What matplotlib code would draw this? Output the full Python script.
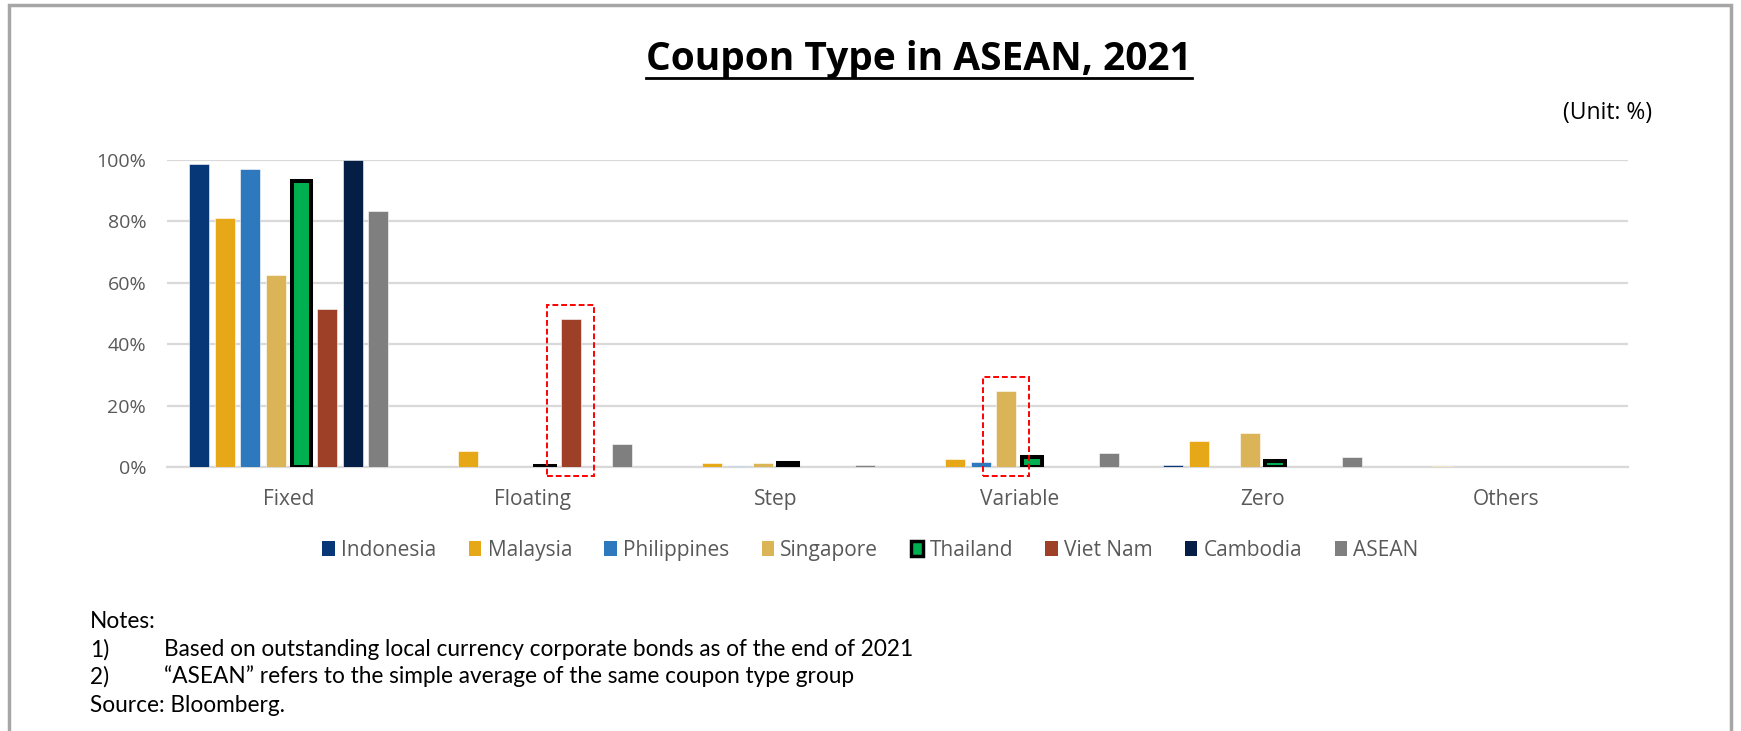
import numpy as np
import matplotlib
matplotlib.use("Agg")
import matplotlib.pyplot as plt
from matplotlib.patches import Rectangle
from matplotlib.lines import Line2D
from matplotlib.ticker import FuncFormatter

# ---------------- Data (% of outstanding LCY corporate bonds) ----------------
coupon_types = ["Fixed", "Floating", "Step", "Variable", "Zero", "Others"]
markets = ["Indonesia", "Malaysia", "Philippines", "Singapore", "Thailand", "Viet Nam", "Cambodia", "ASEAN"]

indonesia   = [98.7, 0.0, 0.0, 0.0, 0.8, 0.0]
malaysia    = [81.2, 5.4, 1.2, 2.5, 8.5, 0.5]
philippines = [97.2, 0.0, 0.5, 1.8, 0.0, 0.0]
singapore   = [62.5, 0.0, 1.2, 24.8, 11.1, 0.0]
thailand    = [93.1, 0.3, 1.4, 3.4, 2.1, np.nan]
viet_nam    = [51.5, 48.3, 0.0, 0.0, 0.0, 0.0]
cambodia    = [100.0, 0.0, 0.0, 0.0, 0.0, 0.0]
asean       = [83.4, 7.6, 0.6, 4.6, 3.2, 0.0]

series = [indonesia, malaysia, philippines, singapore, thailand, viet_nam, cambodia, asean]
colors = ["#073776", "#e6a817", "#2e79bd", "#dbb458", "#00b050", "#9e3f27", "#041e45", "#7f7f7f"]

# bars highlighted with a dashed box: (market, coupon type)
highlights = [("Viet Nam", "Floating"), ("Singapore", "Variable")]

# ---------------- Figure ----------------
fig = plt.figure(figsize=(17.41, 7.31), dpi=100)
ax = fig.add_axes([0.0959, 0.361, 0.8391, 0.42])

x = np.arange(len(coupon_types))
step = 0.105
width = 0.082
offsets = (np.arange(len(markets)) - (len(markets) - 1) / 2) * step

for i, (name, vals, col) in enumerate(zip(markets, series, colors)):
    vals = np.array(vals, dtype=float)
    mask = ~np.isnan(vals)
    if name == "Thailand":
        ax.bar(x[mask] + offsets[i], vals[mask], width, color=col,
               edgecolor="black", linewidth=2.9, zorder=3)
    else:
        ax.bar(x[mask] + offsets[i], vals[mask], width, color=col,
               edgecolor="white", linewidth=0.4, zorder=3)

# dashed boxes around the bars called out in the text
for name, ctype in highlights:
    i = markets.index(name)
    j = coupon_types.index(ctype)
    cx = x[j] + offsets[i]
    top = series[i][j] + 4.5
    ax.add_patch(Rectangle((cx - 0.095, -3.0), 0.19, top + 3.0, fill=False,
                           edgecolor="#ff0000", linestyle=(0, (3, 1.5)),
                           linewidth=1.4, clip_on=False, zorder=4))

ax.set_xlim(-0.5, len(coupon_types) - 0.5)
ax.set_ylim(0, 100)
ax.set_yticks(np.arange(0, 101, 20))
ax.yaxis.set_major_formatter(FuncFormatter(lambda v, p: f"{v:.0f}%"))
ax.set_xticks(x)
ax.set_xticklabels(coupon_types)
ax.grid(axis="y", color="#d9d9d9", linewidth=1.6, zorder=0)
ax.set_axisbelow(True)
for s in ["top", "right", "left"]:
    ax.spines[s].set_visible(False)
ax.spines["bottom"].set_color("#d9d9d9")
ax.spines["bottom"].set_linewidth(1.6)
ax.tick_params(axis="both", length=0, labelcolor="#595959", labelfontfamily="Open Sans")
ax.tick_params(axis="x", pad=16, labelsize=15)
ax.tick_params(axis="y", pad=15, labelsize=14)

# legend
handles = []
for name, col in zip(markets, colors):
    if name == "Thailand":
        handles.append(Rectangle((0, 0), 1, 1, facecolor=col, edgecolor="black", linewidth=2.5))
    else:
        handles.append(Rectangle((0, 0), 1, 1, facecolor=col, edgecolor="none"))
fig.legend(handles, markets, loc="center", bbox_to_anchor=(0.5, 0.247), ncol=8,
           frameon=False, handlelength=0.6, handleheight=0.7, handletextpad=0.3,
           columnspacing=1.55, prop={"family": "Open Sans", "size": 15},
           labelcolor="#595959")

# title with underline
title = fig.text(0.528, 0.9042, "Coupon Type in ASEAN, 2021", ha="center", va="baseline",
                 fontsize=28, fontweight="bold", family="Open Sans")
fig.canvas.draw()
bb = title.get_window_extent().transformed(fig.transFigure.inverted())
fig.add_artist(Line2D([bb.x0, bb.x1], [0.8937, 0.8937], color="black", linewidth=2.0,
                      transform=fig.transFigure))

fig.text(0.949, 0.845, "(Unit: %)", ha="right", va="center", fontsize=16.5,
         family="Open Sans", color="black")

# notes
note_font = {"family": "Lato", "size": 16.3, "color": "black"}
fig.text(0.0515, 0.1495, "Notes:", va="center", **note_font)
fig.text(0.0515, 0.1115, "1)", va="center", **note_font)
fig.text(0.094, 0.1115, "Based on outstanding local currency corporate bonds as of the end of 2021",
         va="center", **note_font)
fig.text(0.0515, 0.0745, "2)", va="center", **note_font)
fig.text(0.094, 0.0745, "\u201cASEAN\u201d refers to the simple average of the same coupon type group",
         va="center", **note_font)
fig.text(0.0515, 0.0345, "Source: Bloomberg.", va="center", **note_font)

# outer frame
fig.add_artist(Rectangle((0.0052, -0.05), 0.989, 1.043, transform=fig.transFigure,
                         fill=False, edgecolor="#a6a6a6", linewidth=2.5))

fig.savefig("out.png", dpi=100)
